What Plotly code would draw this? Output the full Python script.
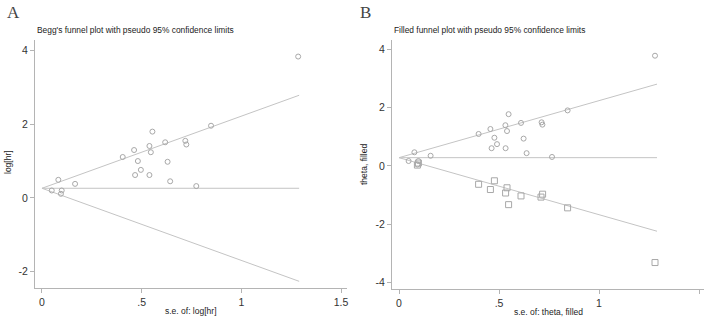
import plotly.graph_objects as go

# ---------------- data ----------------
# Panel A: Begg's funnel plot (se, log[hr])
a_se = [0.049, 0.082, 0.095, 0.099, 0.166, 0.405, 0.462, 0.467, 0.481, 0.496,
        0.539, 0.539, 0.546, 0.554, 0.618, 0.630, 0.643, 0.719, 0.724, 0.774,
        0.848, 1.285]
a_loghr = [0.20, 0.49, 0.11, 0.20, 0.38, 1.11, 1.30, 0.62, 1.00, 0.76,
           1.41, 0.62, 1.24, 1.80, 1.51, 0.98, 0.45, 1.55, 1.45, 0.32,
           1.96, 3.84]
a_theta = 0.26

# Panel B: filled funnel plot - observed studies
b_se = [0.048, 0.077, 0.092, 0.097, 0.158, 0.398, 0.457, 0.463, 0.477, 0.490,
        0.532, 0.533, 0.540, 0.548, 0.610, 0.623, 0.638, 0.713, 0.717, 0.765,
        0.843, 1.280]
b_theta_obs = [0.17, 0.47, 0.05, 0.17, 0.35, 1.10, 1.27, 0.61, 0.97, 0.75,
               1.40, 0.61, 1.20, 1.78, 1.48, 0.94, 0.44, 1.50, 1.42, 0.31,
               1.91, 3.79]
# Panel B: filled (imputed) studies
f_se = [0.092, 0.097, 0.398, 0.457, 0.477, 0.533, 0.540, 0.548, 0.610, 0.710,
        0.718, 0.843, 1.280]
f_theta = [0.03, 0.10, -0.63, -0.81, -0.51, -0.93, -0.75, -1.33, -1.03, -1.07,
           -0.97, -1.44, -3.32]
b_theta = 0.285

se_max = 1.29
x_ticks = [0, 0.5, 1, 1.5]
x_ticklabels = ["0", ".5", "1", "1.5"]
a_yticks = [-2, 0, 2, 4]
a_yticklabels = ["-2", "0", "2", "4"]
b_yticks = [-4, -2, 0, 2, 4]
b_yticklabels = ["-4", "-2", "0", "2", "4"]

# ---------------- figure ----------------
W, H = 706, 319
LINE = "#c4c4c4"
MARK = "#a8a8a8"
AX = "#b4b4b4"
FONT = "Liberation Sans, Arial, sans-serif"

fig = go.Figure()


def funnel(theta, xa, ya):
    fig.add_trace(go.Scatter(x=[0, se_max], y=[theta, theta + 1.96 * se_max], mode="lines",
                             line=dict(color=LINE, width=1), xaxis=xa, yaxis=ya, showlegend=False,
                             hoverinfo="skip"))
    fig.add_trace(go.Scatter(x=[0, se_max], y=[theta, theta - 1.96 * se_max], mode="lines",
                             line=dict(color=LINE, width=1), xaxis=xa, yaxis=ya, showlegend=False,
                             hoverinfo="skip"))
    fig.add_trace(go.Scatter(x=[0, se_max], y=[theta, theta], mode="lines",
                             line=dict(color=LINE, width=1), xaxis=xa, yaxis=ya, showlegend=False,
                             hoverinfo="skip"))


funnel(a_theta, "x", "y")
fig.add_trace(go.Scatter(x=a_se, y=a_loghr, mode="markers", xaxis="x", yaxis="y",
                         marker=dict(symbol="circle-open", size=5, color=MARK, line=dict(width=1)),
                         showlegend=False))

funnel(b_theta, "x2", "y2")
fig.add_trace(go.Scatter(x=b_se, y=b_theta_obs, mode="markers", xaxis="x2", yaxis="y2",
                         marker=dict(symbol="circle-open", size=5, color=MARK, line=dict(width=1)),
                         showlegend=False))
fig.add_trace(go.Scatter(x=f_se, y=f_theta, mode="markers", xaxis="x2", yaxis="y2",
                         marker=dict(symbol="square-open", size=6, color=MARK, line=dict(width=1)),
                         showlegend=False))


def px(v):
    return v / W


def py(v):
    return 1 - v / H


axcommon = dict(showline=True, linecolor=AX, linewidth=1, ticks="outside", ticklen=4,
                tickcolor=AX, tickwidth=1, showgrid=False, zeroline=False, automargin=False,
                tickfont=dict(family=FONT, size=10.5, color="#333"))

fig.update_layout(
    template="none",
    width=W, height=H, margin=dict(l=0, r=0, t=0, b=0, pad=0),
    paper_bgcolor="white", plot_bgcolor="white",
    xaxis=dict(domain=[px(35), px(347)], range=[-0.035, 1.53], anchor="y",
               tickvals=x_ticks, ticktext=x_ticklabels, **axcommon),
    yaxis=dict(domain=[py(288), py(40)], range=[-2.45, 4.29], anchor="x",
               tickvals=a_yticks, ticktext=a_yticklabels, **axcommon),
    xaxis2=dict(domain=[px(392), px(704)], range=[-0.035, 1.525], anchor="y2",
                tickvals=x_ticks, ticktext=x_ticklabels, **axcommon),
    yaxis2=dict(domain=[py(289.3), py(40)], range=[-4.24, 4.33], anchor="x2",
                tickvals=b_yticks, ticktext=b_yticklabels, **axcommon),
)

ann = [
    dict(text="A", x=px(5), y=py(13), xanchor="left", yanchor="middle",
         font=dict(family="Liberation Serif, Times New Roman, serif", size=17, color="#444")),
    dict(text="B", x=px(358), y=py(13), xanchor="left", yanchor="middle",
         font=dict(family="Liberation Serif, Times New Roman, serif", size=17, color="#444")),
    dict(text="Begg's funnel plot with pseudo 95% confidence limits", x=px(35), y=py(30),
         xanchor="left", yanchor="middle", font=dict(family=FONT, size=8.4, color="#222")),
    dict(text="Filled funnel plot with pseudo 95% confidence limits", x=px(392), y=py(30),
         xanchor="left", yanchor="middle", font=dict(family=FONT, size=8.4, color="#222")),
    dict(text="s.e. of: log[hr]", x=px(191), y=py(311), xanchor="center", yanchor="middle",
         font=dict(family=FONT, size=8.5, color="#222")),
    dict(text="s.e. of: theta, filled", x=px(548), y=py(311.5), xanchor="center", yanchor="middle",
         font=dict(family=FONT, size=8.5, color="#222")),
    dict(text="log[hr]", x=px(8), y=py(162), xanchor="center", yanchor="middle", textangle=-90,
         font=dict(family=FONT, size=8.5, color="#222")),
    dict(text="theta, filled", x=px(364), y=py(165), xanchor="center", yanchor="middle", textangle=-90,
         font=dict(family=FONT, size=8.5, color="#222")),
]
for a in ann:
    a.update(xref="paper", yref="paper", showarrow=False)
fig.update_layout(annotations=ann)

fig.write_html("out.html", config={"displayModeBar": False},
               post_script="document.body.style.margin='0';document.body.style.padding='0';")
